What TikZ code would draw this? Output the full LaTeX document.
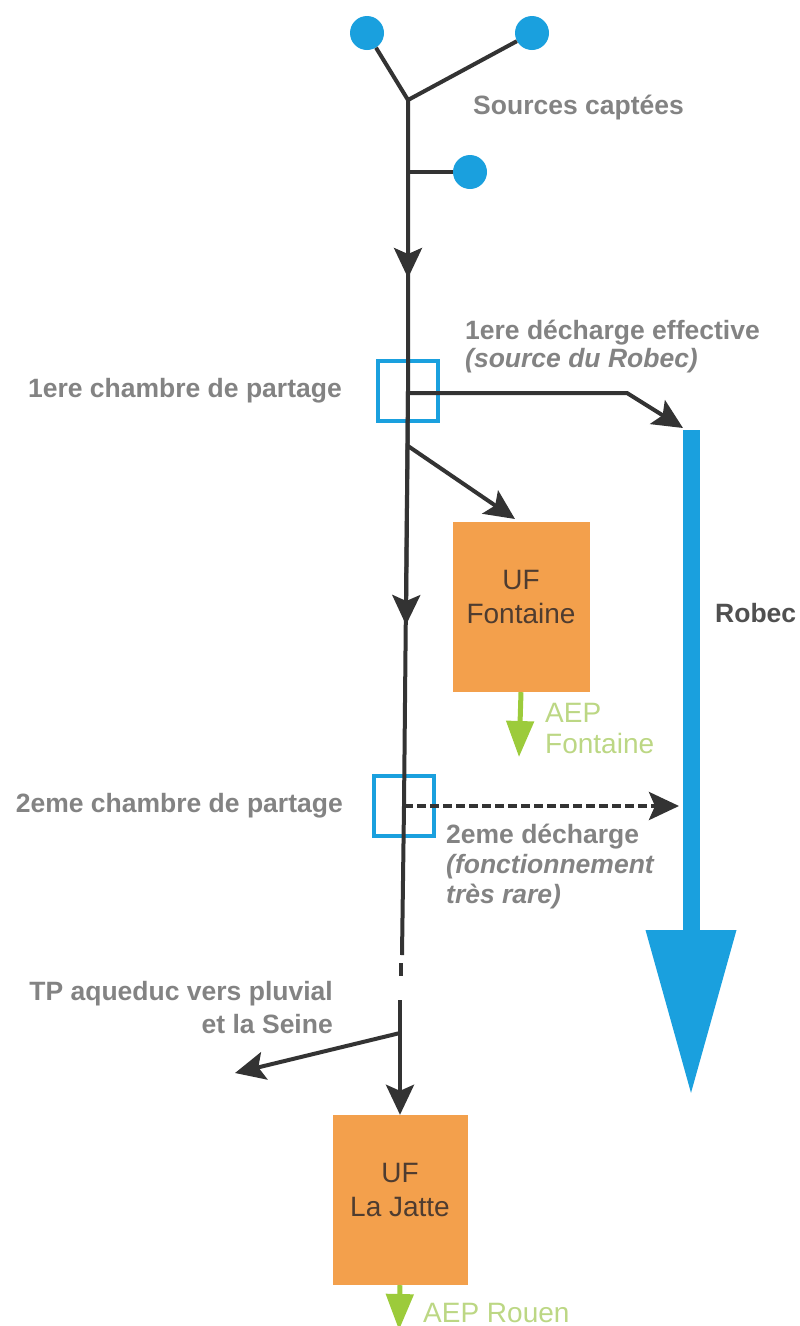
\documentclass[tikz,border=0pt]{standalone}
\usepackage{fontspec}
\setmainfont{Liberation Sans}
\usetikzlibrary{arrows.meta, positioning}

\definecolor{pipegray}{HTML}{333333}
\definecolor{notegray}{HTML}{838383}
\definecolor{robecgray}{HTML}{505050}
\definecolor{robecblue}{HTML}{1AA0DE}
\definecolor{uforange}{HTML}{F3A04C}
\definecolor{uftext}{HTML}{4E3C30}
\definecolor{aepgreen}{HTML}{9CCB3B}
\definecolor{aeptext}{HTML}{BCD784}

\tikzset{
  pipe/.style = {draw = pipegray, line width = 4pt},
  flow/.style = {pipe, -{Stealth[length = 30pt, width = 28pt, inset = 6pt]}},
  note/.style = {text = notegray, inner sep = 0pt,
    font = \fontsize{26.5}{28}\selectfont\bfseries},
  chamber/.style = {draw = robecblue, line width = 4pt, rectangle,
    minimum size = 60pt, inner sep = 0pt},
  source/.style = {circle, fill = robecblue, minimum size = 34pt,
    inner sep = 0pt},
  ufbox/.style = {rectangle, fill = uforange, text = uftext, align = center,
    text depth = 20pt, font = \fontsize{28}{34}\selectfont},
  aep/.style = {draw = aepgreen, line width = 5pt,
    -{Triangle[length = 36pt, width = 27pt]}},
  aepnote/.style = {text = aeptext, inner sep = 0pt, align = left,
    font = \fontsize{28}{31}\selectfont},
}

\begin{document}
\begin{tikzpicture}[x = 1pt, y = -1pt]
        \useasboundingbox (0,0) rectangle (800,1326);

        \node [source] (src1) at (367,33)  {};
        \node [source] (src2) at (532,33)  {};
        \node [source] (src3) at (470,172) {};
        \coordinate (fork)    at (408,100);
        \coordinate (branch3) at (408,172);
        \coordinate (tip1)    at (408,278);

        \node [chamber] (chamber1) at (408,391) {};
        \node [chamber] (chamber2) at (404,806) {};
        \node [ufbox, minimum width = 137pt, minimum height = 170pt]
          (fontaine) at (521,607) {UF\\Fontaine};
        \node [ufbox, minimum width = 135pt, minimum height = 170pt]
          (jatte) at (400,1200) {UF\\La Jatte};

        \coordinate (fontbranch) at (408,446);
        \coordinate (fontin)     at (515,519);
        \coordinate (tip2)       at (406,625);
        \coordinate (bend1)      at (627,393);
        \coordinate (outlet1)    at (683,428);
        \coordinate (outlet2)    at (679,806);
        \coordinate (gapstart)   at (402,955);
        \coordinate (dashtop)    at (401,963);
        \coordinate (dashbottom) at (401,976);
        \coordinate (gapend)     at (400,1000);
        \coordinate (tpbranch)   at (400,1033);
        \coordinate (tpout)      at (235,1073);
        \coordinate (robectop)   at (691,430);
        \coordinate (robecend)   at (691,1095);
        \coordinate (aepfont)    at (519,757);
        \coordinate (aeprouen)   at (399,1330);

        \draw [robecblue, line width = 17pt,
          -{Triangle[length = 165pt, width = 86pt]}] (robectop) -- (robecend);

        \draw [pipe] (src1) -- (fork) -- (src2);
        \draw [pipe] (branch3) -- (src3);
        \draw [pipe] (fork) -- (chamber1.center) -- (chamber2.center)
          -- (gapstart);
        \draw [flow] (fork) -- (tip1);
        \draw [flow] (chamber1.center) -- (tip2);
        \draw [pipe] (dashtop) -- (dashbottom);
        \draw [flow] (gapend) -- (jatte.north);
        \draw [flow] (fontbranch) -- (fontin);
        \draw [flow] (chamber1.center |- bend1) -- (bend1) -- (outlet1);
        \draw [flow, dash pattern = on 9pt off 4pt]
          (chamber2.center) -- (outlet2);
        \draw [flow] (tpbranch) -- (tpout);

        \draw [aep] (fontaine.south) -- (aepfont);
        \draw [aep] (jatte.south) -- (aeprouen);

        \node [note, anchor = west] (sourceslabel) at (473,108)
          {Sources captées};
        \node [note, left = 34pt of chamber1] (chamber1label)
          {1ere chambre de partage};
        \node [note, left = 29pt of chamber2] (chamber2label)
          {2eme chambre de partage};
        \node [note, anchor = west, align = left] (outlet1label) at (465,347)
          {1ere décharge effective\\{\itshape (source du Robec)}};
        \node [note, anchor = west, align = left,
          font = \fontsize{26.5}{30}\selectfont\bfseries] (outlet2label)
          at (446,867)
          {2eme décharge\\{\itshape (fonctionnement}\\{\itshape très rare)}};
        \node [note, anchor = east, align = right,
          font = \fontsize{26.5}{33}\selectfont\bfseries] (tplabel)
          at (333,1008) {TP aqueduc vers pluvial\\et la Seine};
        \node [note, anchor = west, text = robecgray] (robeclabel)
          at (715,613) {Robec};
        \node [aepnote, anchor = west] (aepfontlabel) at (545,728)
          {AEP\\Fontaine};
        \node [aepnote, anchor = west] (aeprouenlabel) at (423,1313)
          {AEP Rouen};
      \end{tikzpicture}
\end{document}
